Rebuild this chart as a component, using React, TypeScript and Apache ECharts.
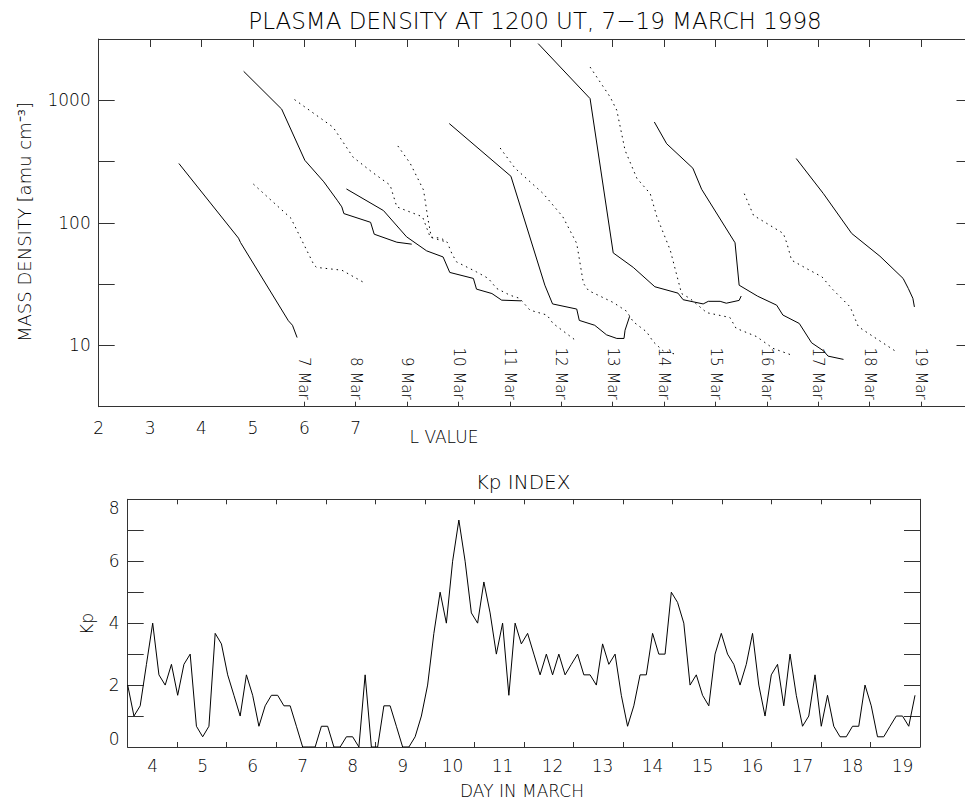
import React, { useEffect, useRef } from 'react';
import * as echarts from 'echarts';

// ---- Plasma density curves (L value shifted one unit per day, density in amu cm^-3)
const mar07 = [[3.56, 305], [4.72, 75], [4.76, 69], [5.69, 15.9], [5.77, 14.6], [5.86, 11.6]];
const mar08 = [[5.01, 207], [5.74, 109], [6.19, 45.2], [6.24, 43.3], [6.73, 41.1], [7.17, 32.4]];
const mar09 = [[4.82, 1723], [5.56, 847], [6.01, 324], [6.38, 216], [6.64, 153], [6.73, 135], [6.77, 119], [7.29, 101], [7.36, 80.8], [7.8, 69.5], [8.09, 67]];
const mar10 = [[5.81, 1013], [6.56, 603], [6.95, 343], [7.32, 259], [7.67, 203], [7.8, 135], [8.3, 112], [8.45, 76.4], [8.78, 69.5]];
const mar11 = [[6.82, 189], [7.54, 126], [7.99, 76.9], [8.38, 59.1], [8.7, 52.7], [8.83, 39.4], [9.29, 35.2], [9.35, 28.8], [9.65, 26.5], [9.84, 23.4], [10.22, 23.1]];
const mar12 = [[7.82, 424], [8.06, 306], [8.32, 185], [8.41, 105], [8.47, 76.4], [8.66, 75], [8.78, 69.5], [8.87, 56.2], [8.96, 48.1], [9.35, 39.8], [9.58, 35.2], [9.74, 29.2], [10.0, 25.7], [10.19, 24.2], [10.39, 19.4], [10.72, 17.7], [10.84, 15.1], [11.29, 10.9]];
const mar13 = [[8.82, 646], [10.02, 240], [10.68, 31], [10.83, 21.8], [11.3, 19.8], [11.35, 16], [11.65, 14.6], [11.88, 12.2], [12.08, 11.4], [12.22, 11.4], [12.24, 13.3], [12.33, 17.3]];
const mar14 = [[9.81, 408], [10.1, 279], [10.65, 173], [11.03, 112], [11.3, 67.9], [11.43, 32.1], [11.53, 28], [12.01, 22.4], [12.27, 19], [12.4, 15.6], [12.66, 12.9], [12.79, 10.7], [12.98, 9.04], [13.21, 8.5]];
const mar15 = [[10.55, 2900], [11.56, 1032], [12.01, 56.9], [12.4, 43.3], [12.82, 30.1], [13.27, 26.7], [13.37, 23.6], [13.76, 21.8], [13.86, 22.9], [14.09, 22.9], [14.21, 22.1], [14.46, 23.3], [14.5, 25.3]];
const mar16 = [[11.56, 1867], [11.95, 1064], [12.08, 828], [12.24, 391], [12.47, 231], [12.73, 173], [12.86, 112], [13.12, 59.8], [13.34, 26.5], [13.5, 24.2], [13.83, 18.5], [14.28, 16.9], [14.4, 13.8], [14.8, 11.8], [15.12, 9.46], [15.48, 8.34]];
const mar17 = [[12.81, 665], [13.05, 442], [13.56, 279], [13.73, 188], [14.38, 68.8], [14.46, 31], [14.82, 25.2], [15.19, 21.3], [15.31, 17.7], [15.63, 15.1], [15.87, 10.5], [16.1, 9.04], [16.19, 8.18], [16.49, 7.69]];
const mar18 = [[14.56, 173], [14.74, 115], [15.0, 98.8], [15.32, 81.9], [15.39, 67.9], [15.48, 49.6], [15.77, 42.4], [16.07, 36.3], [16.26, 29.2], [16.62, 20.6], [16.78, 14.2], [17.07, 11.8], [17.49, 9.04]];
const mar19 = [[15.57, 335], [16.1, 173], [16.65, 81.9], [17.2, 53.4], [17.65, 35.2], [17.75, 29.2], [17.84, 24.2], [17.87, 20.6]];

const dayCurves = [mar07, mar08, mar09, mar10, mar11, mar12, mar13, mar14, mar15, mar16, mar17, mar18, mar19];
const dayNames = ['7 Mar', '8 Mar', '9 Mar', '10 Mar', '11 Mar', '12 Mar', '13 Mar', '14 Mar', '15 Mar', '16 Mar', '17 Mar', '18 Mar', '19 Mar'];
const dayLabelL = [6, 7, 8, 9, 10, 11, 12, 13, 14, 15, 16, 17, 18];
const lTickLabels = [2, 3, 4, 5, 6, 7];

// ---- Kp index, 3-hourly, starting at day 3.5 of March
const kpStartDay = 3.5;
const kpStepDay = 0.125;
const kpValues = [
  2, 1, 1.33, 2.67, 4, 2.33, 2, 2.67, 1.67, 2.67,
  3, 0.67, 0.33, 0.67, 3.67, 3.33, 2.33, 1.67, 1, 2.33,
  1.67, 0.67, 1.33, 1.67, 1.67, 1.33, 1.33, 0.67, 0, 0,
  0, 0.67, 0.67, 0, 0, 0.33, 0.33, 0, 2.33, 0,
  0, 1.33, 1.33, 0.67, 0, 0, 0.33, 1, 2, 3.67,
  5, 4, 6, 7.33, 6, 4.33, 4, 5.33, 4.33, 3,
  4, 1.67, 4, 3.33, 3.67, 3, 2.33, 3, 2.33, 3,
  2.33, 2.67, 3, 2.33, 2.33, 2, 3.33, 2.67, 3, 1.67,
  0.67, 1.33, 2.33, 2.33, 3.67, 3, 3, 5, 4.67, 4,
  2, 2.33, 1.67, 1.33, 3, 3.67, 3, 2.67, 2, 2.67,
  3.67, 2, 1, 2.33, 2.67, 1.33, 3, 1.67, 0.67, 1,
  2.33, 0.67, 1.67, 0.67, 0.33, 0.33, 0.67, 0.67, 2, 1.33,
  0.33, 0.33, 0.67, 1, 1, 0.67, 1.67,
];
const kpDayLabels = [4, 5, 6, 7, 8, 9, 10, 11, 12, 13, 14, 15, 16, 17, 18, 19];

const FONT = 'DejaVu Sans';
const FW = 200;
const AX = '#333';
const TXT = '#000';

export default function App() {
  const ref = useRef<HTMLDivElement>(null);
  useEffect(() => {
    const el = ref.current;
    if (!el) return;
    const chart = echarts.init(el, null, { renderer: 'svg' });

    const topGrid = { left: 98.7, top: 39, width: 873.8, height: 367.7, containLabel: false, outerBoundsMode: 'none' };
    const kpGrid = { left: 127.7, top: 499.3, width: 792.3, height: 247.7, containLabel: false, outerBoundsMode: 'none' };
    const kpMin = 3.5;
    const kpMax = 19.35;
    const kpTicks = Array.from({ length: 17 }, (_, k) => kpMin + (k * (kpMax - kpMin)) / 16);

    const lineAx = { show: true, onZero: false, lineStyle: { color: AX, width: 1 } };
    const lbl = { color: TXT, fontFamily: FONT, fontWeight: FW, fontSize: 17 };

    const series: any[] = dayCurves.map((c, i) => ({
      type: 'line',
      xAxisIndex: 0,
      yAxisIndex: 0,
      data: c.map(([l, d]) => [l, Math.log10(d)]),
      showSymbol: false,
      symbol: 'none',
      silent: true,
      lineStyle: { color: '#000', width: 1, type: i % 2 === 1 ? [1.5, 4] : 'solid' },
    }));
    series.push({
      type: 'line',
      xAxisIndex: 3,
      yAxisIndex: 2,
      data: kpValues.map((v, i) => [kpStartDay + i * kpStepDay, v]),
      showSymbol: false,
      symbol: 'none',
      silent: true,
      lineStyle: { color: '#000', width: 1 },
    });

    const txt = (text: string, x: number, y: number, size: number, rot = 0) => ({
      type: 'text', x, y, rotation: rot,
      style: { text, fill: TXT, font: `${FW} ${size}px "${FONT}"`, align: 'center', verticalAlign: 'middle' },
    });

    const option: any = {
      animation: false,
      grid: [topGrid, kpGrid],
      xAxis: [
        {
          gridIndex: 0, type: 'value', position: 'bottom', min: 2, max: 19,
          axisLine: lineAx,
          axisTick: { show: true, inside: true, length: 5, customValues: dayLabelL, lineStyle: { color: AX } },
          axisLabel: { ...lbl, customValues: lTickLabels, margin: 13 },
          splitLine: { show: false },
        },
        {
          gridIndex: 0, type: 'value', position: 'bottom', min: 2, max: 19,
          axisLine: { show: false, onZero: false },
          axisTick: { show: false },
          axisLabel: {
            color: TXT, fontFamily: FONT, fontWeight: FW, fontSize: 15, inside: true, rotate: -90, margin: 7,
            customValues: dayLabelL,
            formatter: (v: number) => dayNames[dayLabelL.indexOf(Math.round(v))] ?? '',
          },
          splitLine: { show: false },
        },
        {
          gridIndex: 0, type: 'value', position: 'top', min: 2, max: 19, interval: 1,
          axisLine: lineAx,
          axisTick: { show: true, inside: true, length: 8, lineStyle: { color: AX } },
          axisLabel: { show: false },
          splitLine: { show: false },
        },
        {
          gridIndex: 1, type: 'value', position: 'bottom', min: kpMin, max: kpMax,
          axisLine: lineAx,
          axisTick: { show: true, inside: true, length: 5, customValues: kpTicks, lineStyle: { color: AX } },
          axisLabel: { ...lbl, customValues: kpDayLabels, margin: 10 },
          splitLine: { show: false },
        },
        {
          gridIndex: 1, type: 'value', position: 'top', min: kpMin, max: kpMax,
          axisLine: lineAx,
          axisTick: { show: true, inside: true, length: 5, customValues: kpTicks, lineStyle: { color: AX } },
          axisLabel: { show: false },
          splitLine: { show: false },
        },
      ],
      yAxis: [
        {
          gridIndex: 0, type: 'value', position: 'left', min: 0.5, max: 3.5, interval: 0.5,
          axisLine: lineAx,
          axisTick: { show: true, inside: true, length: 16, lineStyle: { color: AX } },
          axisLabel: {
            ...lbl, margin: 8,
            formatter: (v: number) => (Math.abs(v - Math.round(v)) < 1e-6 ? String(Math.round(Math.pow(10, v))) : ''),
          },
          splitLine: { show: false },
        },
        {
          gridIndex: 0, type: 'value', position: 'right', min: 0.5, max: 3.5, interval: 0.5,
          axisLine: lineAx,
          axisTick: { show: true, inside: true, length: 16, lineStyle: { color: AX } },
          axisLabel: { show: false },
          splitLine: { show: false },
        },
        {
          gridIndex: 1, type: 'value', position: 'left', min: 0, max: 8, interval: 1,
          axisLine: lineAx,
          axisTick: { show: true, inside: true, length: 16, lineStyle: { color: AX } },
          axisLabel: {
            ...lbl, margin: 8, verticalAlignMinLabel: 'bottom', verticalAlignMaxLabel: 'top',
            formatter: (v: number) => (Math.round(v) % 2 === 0 ? String(Math.round(v)) : ''),
          },
          splitLine: { show: false },
        },
        {
          gridIndex: 1, type: 'value', position: 'right', min: 0, max: 8, interval: 1,
          axisLine: lineAx,
          axisTick: { show: true, inside: true, length: 16, lineStyle: { color: AX } },
          axisLabel: { show: false },
          splitLine: { show: false },
        },
      ],
      graphic: [
        txt('PLASMA DENSITY AT 1200 UT, 7\u221219 MARCH 1998', 535, 21, 23),
        txt('L VALUE', 444, 437, 17),
        txt('MASS DENSITY [amu cm\u207B\u00B3]', 24, 222, 18, Math.PI / 2),
        txt('Kp INDEX', 523, 482, 20),
        txt('Kp', 87, 624, 17, Math.PI / 2),
        txt('DAY IN MARCH', 522, 791, 17),
      ],
      series,
    };
    chart.setOption(option);
    return () => chart.dispose();
  }, []);
  return <div ref={ref} style={{ position: 'fixed', left: 0, top: 0, width: 1000, height: 802, background: '#fff' }} />;
}
